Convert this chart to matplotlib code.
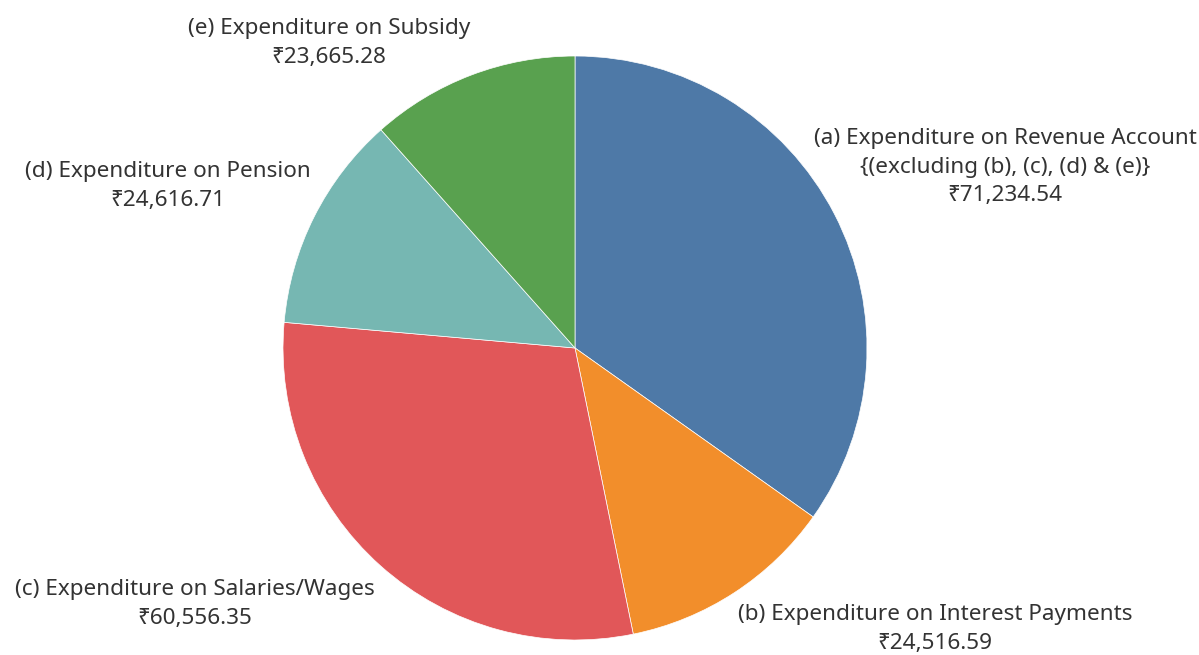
import matplotlib
matplotlib.use("Agg")
import matplotlib.pyplot as plt

# data
labels = ["(a) Expenditure on Revenue Account\n{(excluding (b), (c), (d) & (e)}",
          "(b) Expenditure on Interest Payments",
          "(c) Expenditure on Salaries/Wages",
          "(d) Expenditure on Pension",
          "(e) Expenditure on Subsidy"]
values = [71234.54, 24516.59, 60556.35, 24616.71, 23665.28]
colors = ["#4e79a7", "#f28e2b", "#e15759", "#76b7b2", "#59a14f"]

plt.rcParams['font.family'] = ['Noto Sans', 'DejaVu Sans']

W, H = 1199, 655
fig = plt.figure(figsize=(W / 100, H / 100), dpi=100)
ax = fig.add_axes([0, 0, 1, 1])

ax.pie(values, colors=colors, startangle=90, counterclock=False,
       center=(575, H - 348), radius=292,
       wedgeprops=dict(linewidth=0.5, edgecolor='white'))

# pie() resets the limits, so set them afterwards
ax.set_xlim(0, W)
ax.set_ylim(0, H)
ax.set_aspect('equal')
ax.axis('off')

# label block centres in pixels
label_pos = [(1005, 167), (935, 629), (195, 604), (168, 186), (329, 43)]
for lab, v, (x, y) in zip(labels, values, label_pos):
    txt = lab + "\n\u20b9" + f"{v:,.2f}"
    ax.text(x, H - y, txt, ha='center', va='center', fontsize=16.2,
            color='#333333', linespacing=1.48)

fig.savefig("out.png", dpi=100)
